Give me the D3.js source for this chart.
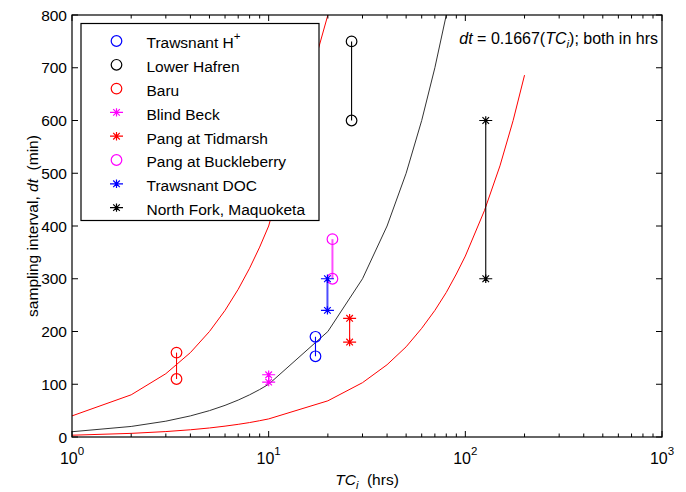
<!DOCTYPE html>
<html><head><meta charset="utf-8">
<script src="https://cdn.jsdelivr.net/npm/d3@7"></script>
<style>
body{margin:0;background:#fff;}
text{font-family:"Liberation Sans",Arial,sans-serif;}
</style></head>
<body><svg id="c" width="686" height="492"></svg>
<script>
// ---- data ----
const tcGrid   = [1,2,3,4,5,6,7,8,9,10,20,30,40,50,60,70,80,90,100,125,150,175,200];
const upperRed = [40,80,120,160,200,240,280,320,360,400,800,1200,1600,2000,2400,2800,3200,3600,4000,5000,6000,7000,8000];
const midBlack = [10,20,30,40,50,60,70,80,90,100,200,300,400,500,600,700,800,900,1000,1250,1500,1750,2000];
const lowerRed = [3.4,6.9,10.3,13.7,17.1,20.6,24,27.4,30.9,34.3,68.6,103,137,171,206,240,274,309,343,429,514,600,686];

const siteNames  = ["Trawsnant H+","Lower Hafren","Baru","Blind Beck","Pang at Tidmarsh","Pang at Buckleberry","Trawsnant DOC","North Fork, Maquoketa"];
const siteTC     = [17.3, 26.4, 3.4, 10, 25.8, 21.1, 19.9, 127];
const siteDtHigh = [190, 750, 160, 118, 225, 375, 300, 600];
const siteDtLow  = [153, 600, 110, 104, 180, 300, 240, 300];
const siteColor  = ["#0000ff","#000000","#ff0000","#ff00ff","#ff0000","#ff00ff","#0000ff","#000000"];
const siteMarker = ["circle","circle","circle","star","star","circle","star","star"];

const yTicks = [0,100,200,300,400,500,600,700,800];
const xDecades = [1,10,100,1000];
const xDecadeExp = ["0","1","2","3"];

// ---- layout ----
const L=72, R=662, T=15, B=437;
const svg = d3.select("#c");
const x = d3.scaleLog().domain([1,1000]).range([L,R]);
const y = d3.scaleLinear().domain([0,800]).range([B,T]);

svg.append("defs").append("clipPath").attr("id","clip")
  .append("rect").attr("x",L).attr("y",T).attr("width",R-L).attr("height",B-T);

// curves
const line = d3.line().x(d=>x(d[0])).y(d=>y(d[1]));
const curves = [[upperRed,"#ff0000"],[midBlack,"#333333"],[lowerRed,"#ff0000"]];
const gc = svg.append("g").attr("clip-path","url(#clip)");
curves.forEach(([vals,col])=>{
  gc.append("path").attr("d",line(tcGrid.map((t,i)=>[t,vals[i]])))
    .attr("fill","none").attr("stroke",col).attr("stroke-width",1);
});

// markers
function drawMarker(g, type, cx, cy, col){
  if(type==="circle"){
    g.append("circle").attr("cx",cx).attr("cy",cy).attr("r",5.3)
     .attr("fill","none").attr("stroke",col).attr("stroke-width",1.2);
  } else {
    const s=4.2, d=3.3;
    const p = `M${cx-6.5},${cy}H${cx+6.5}M${cx},${cy-s}V${cy+s}M${cx-d},${cy-d}L${cx+d},${cy+d}M${cx-d},${cy+d}L${cx+d},${cy-d}`;
    g.append("path").attr("d",p).attr("stroke",col).attr("stroke-width",1.2).attr("fill","none");
  }
}
const gs = svg.append("g");
siteNames.forEach((n,i)=>{
  const thick = (n==="Trawsnant DOC"||n==="Pang at Buckleberry");
  gs.append("line").attr("x1",x(siteTC[i])).attr("x2",x(siteTC[i]))
    .attr("y1",y(siteDtHigh[i])).attr("y2",y(siteDtLow[i]))
    .attr("stroke",siteColor[i]).attr("stroke-width",thick?2:1.1)
    .attr("stroke-opacity",thick?0.7:1);
  drawMarker(gs, siteMarker[i], x(siteTC[i]), y(siteDtHigh[i]), siteColor[i]);
  drawMarker(gs, siteMarker[i], x(siteTC[i]), y(siteDtLow[i]), siteColor[i]);
});

// axes box
svg.append("rect").attr("x",L).attr("y",T).attr("width",R-L).attr("height",B-T)
  .attr("fill","none").attr("stroke","#000").attr("stroke-width",1.2);

// ticks
const majorLen=6, minorLen=3.5;
const allX = x.ticks();
const ga = svg.append("g");
allX.forEach(v=>{
  const isMaj = xDecades.includes(v);
  const len = isMaj?majorLen:minorLen;
  const px = x(v);
  ga.append("line").attr("x1",px).attr("x2",px).attr("y1",B).attr("y2",B-len).attr("stroke","#000");
  ga.append("line").attr("x1",px).attr("x2",px).attr("y1",T).attr("y2",T+len).attr("stroke","#000");
});
xDecades.forEach((v,i)=>{
  const t = ga.append("text").attr("x",x(v)).attr("y",464).attr("text-anchor","middle")
    .attr("font-size",16);
  t.append("tspan").text("10");
  t.append("tspan").attr("dy",-9).attr("font-size",11.5).text(xDecadeExp[i]);
});
yTicks.forEach(v=>{
  const py=y(v);
  ga.append("line").attr("x1",L).attr("x2",L+majorLen).attr("y1",py).attr("y2",py).attr("stroke","#000");
  ga.append("line").attr("x1",R).attr("x2",R-majorLen).attr("y1",py).attr("y2",py).attr("stroke","#000");
  ga.append("text").attr("x",L-5).attr("y",py).attr("dy","0.36em").attr("text-anchor","end")
    .attr("font-size",15.5).text(v);
});

// axis labels
const xl = svg.append("text").attr("x",(L+R)/2).attr("y",485).attr("text-anchor","middle").attr("font-size",15.5);
xl.append("tspan").attr("font-style","italic").text("TC");
xl.append("tspan").attr("font-style","italic").attr("font-size",11).attr("dy",4).text("i");
xl.append("tspan").attr("dy",-4).text("\u00a0\u00a0(hrs)");

const yl = svg.append("text").attr("transform",`translate(38,${(T+B)/2}) rotate(-90)`)
  .attr("text-anchor","middle").attr("font-size",15.5);
yl.append("tspan").text("sampling interval, ");
yl.append("tspan").attr("font-style","italic").text("dt");
yl.append("tspan").text("\u00a0\u00a0(min)");

// annotation
const an = svg.append("text").attr("x",658).attr("y",44).attr("text-anchor","end").attr("font-size",16);
an.append("tspan").attr("font-style","italic").text("dt");
an.append("tspan").text(" = 0.1667(");
an.append("tspan").attr("font-style","italic").text("TC");
an.append("tspan").attr("font-style","italic").attr("font-size",11.5).attr("dy",4).text("i");
an.append("tspan").attr("dy",-4).text("); both in hrs");

// legend
const lg = svg.append("g");
lg.append("rect").attr("x",81).attr("y",23.5).attr("width",238).attr("height",197)
  .attr("fill","#fff").attr("stroke","#000").attr("stroke-width",1.2);
siteNames.forEach((n,i)=>{
  const ly = 41 + i*23.8;
  drawMarker(lg, siteMarker[i], 116.5, ly, siteColor[i]);
  const t = lg.append("text").attr("x",146.5).attr("y",ly+2).attr("dy","0.35em").attr("font-size",15.5);
  if(n==="Trawsnant H+"){
    t.append("tspan").text("Trawsnant H");
    t.append("tspan").attr("dy",-8).attr("font-size",11.5).text("+");
  } else t.text(n);
});
</script></body></html>
